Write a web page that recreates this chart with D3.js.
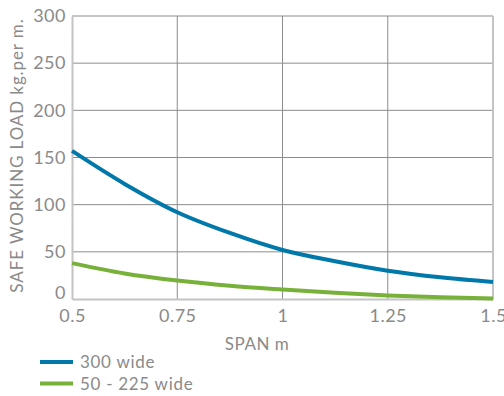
<!DOCTYPE html>
<html>
<head>
<meta charset="utf-8">
<script src="https://cdn.jsdelivr.net/npm/d3@7"></script>
<style>
  body { margin: 0; background: #fff; }
  svg text { font-family: Lato, 'Open Sans', sans-serif; fill: #8a8a8a; }
</style>
</head>
<body>
<div id="graf"></div>
<script>
// datos
const spans = [0.5, 0.625, 0.75, 0.875, 1, 1.125, 1.25, 1.375, 1.5]
const wide300 = [157, 122, 92, 70, 52, 40, 30, 23, 18]
const wide50a225 = [38, 27, 19.5, 14, 10, 6.5, 3.8, 1.8, 0.5]
const xTicks = [0.5, 0.75, 1, 1.25, 1.5]
const yTicks = [0, 50, 100, 150, 200, 250, 300]
const series = [
  { nombre: '300 wide', valores: wide300, color: '#0078aa' },
  { nombre: '50 - 225 wide', valores: wide50a225, color: '#78b13a' },
]

const anchoTotal = 504
const altoTotal = 396

const margin = {
  top: 16,
  bottom: 97,
  left: 72,
  right: 11,
}

const ancho = anchoTotal - margin.left - margin.right
const alto = altoTotal - margin.top - margin.bottom

const svg = d3
  .select('#graf')
  .append('svg')
  .attr('width', anchoTotal)
  .attr('height', altoTotal)

const g = svg
  .append('g')
  .attr('transform', `translate(${margin.left}, ${margin.top})`)

const x = d3.scaleLinear().domain([0.5, 1.5]).range([0, ancho])
const y = d3.scaleLinear().domain([0, 300]).range([alto, 0])

// rejilla
g.append('g')
  .selectAll('line')
  .data(yTicks.slice(1))
  .join('line')
  .attr('x1', 0)
  .attr('x2', ancho)
  .attr('y1', (d) => y(d))
  .attr('y2', (d) => y(d))
  .attr('stroke', '#8c8c8c')
  .attr('stroke-width', 1)

g.append('g')
  .selectAll('line')
  .data(xTicks.slice(1, -1))
  .join('line')
  .attr('x1', (d) => x(d))
  .attr('x2', (d) => x(d))
  .attr('y1', 0)
  .attr('y2', alto)
  .attr('stroke', '#8c8c8c')
  .attr('stroke-width', 1)

// marco claro
g.append('line')
  .attr('x1', x(1.5)).attr('x2', x(1.5))
  .attr('y1', 0).attr('y2', alto)
  .attr('stroke', '#c4c4c4').attr('stroke-width', 2)

// ejes
const ejeX = g
  .append('g')
  .attr('transform', `translate(0, ${alto})`)
  .call(d3.axisBottom(x).tickValues(xTicks).tickSize(0).tickPadding(10).tickFormat((d) => d))
ejeX.select('.domain').attr('stroke', '#c4c4c4').attr('stroke-width', 2)
ejeX.selectAll('text')
  .attr('font-size', 18)
  .attr('letter-spacing', 0.5)
  .attr('fill', '#8a8a8a')

const ejeY = g
  .append('g')
  .call(d3.axisLeft(y).tickValues(yTicks).tickSize(0).tickPadding(6))
ejeY.select('.domain').attr('stroke', '#c4c4c4').attr('stroke-width', 2)
ejeY.selectAll('text')
  .attr('font-size', 18)
  .attr('letter-spacing', 0.5)
  .attr('fill', '#8a8a8a')
// el cero sube un poco para no chocar con 0.5
ejeY.selectAll('.tick').filter((d) => d === 0).select('text').attr('dy', '-0.05em')

// lineas
const linea = d3
  .line()
  .x((d, i) => x(spans[i]))
  .y((d) => y(d))
  .curve(d3.curveMonotoneX)

g.selectAll('.serie')
  .data(series)
  .join('path')
  .attr('class', 'serie')
  .attr('d', (d) => linea(d.valores))
  .attr('fill', 'none')
  .attr('stroke', (d) => d.color)
  .attr('stroke-width', 4)

// titulos
svg.append('text')
  .attr('x', 257)
  .attr('y', 350)
  .attr('text-anchor', 'middle')
  .attr('font-size', 17)
  .attr('letter-spacing', 0.5)
  .text('SPAN m')

svg.append('text')
  .attr('transform', `translate(23, ${margin.top + alto / 2 - 2}) rotate(-90)`)
  .attr('text-anchor', 'middle')
  .attr('font-size', 17)
  .attr('letter-spacing', 0.9)
  .text('SAFE WORKING LOAD kg.per m.')

// leyenda
const leyenda = svg
  .selectAll('.leyenda')
  .data(series)
  .join('g')
  .attr('class', 'leyenda')
  .attr('transform', (d, i) => `translate(40, ${362 + i * 21.5})`)

leyenda.append('line')
  .attr('x1', 0).attr('x2', 33)
  .attr('stroke', (d) => d.color)
  .attr('stroke-width', 4)

leyenda.append('text')
  .attr('x', 40)
  .attr('y', 6)
  .attr('font-size', 17)
  .attr('letter-spacing', 0.7)
  .text((d) => d.nombre)
</script>
</body>
</html>
